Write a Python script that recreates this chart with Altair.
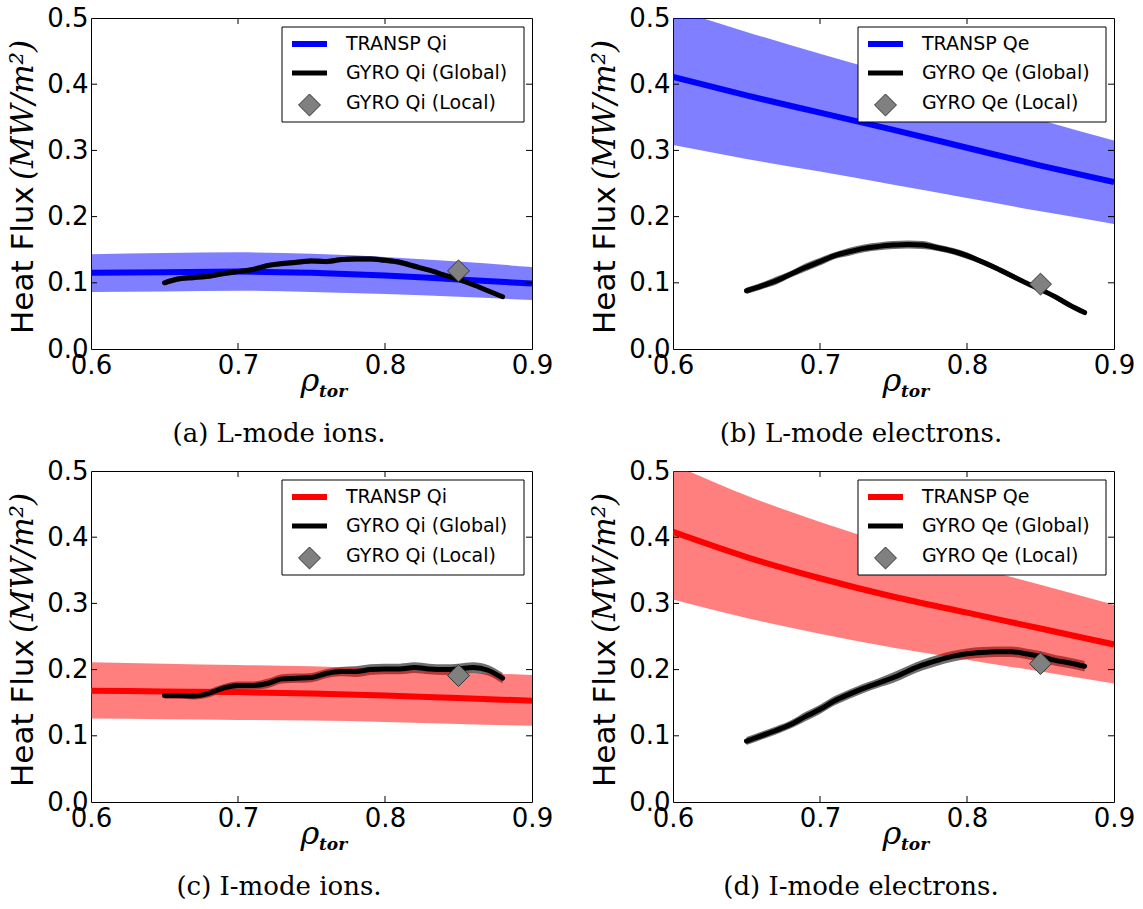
import altair as alt
import pandas as pd

# ---------------------------------------------------------------- data
# radial grid of the TRANSP power-balance profiles
rho_transp = [0.60, 0.65, 0.70, 0.75, 0.80, 0.85, 0.90]
# radial grid of the global GYRO runs
rho_gyro = [0.65, 0.66, 0.67, 0.68, 0.69, 0.70, 0.71, 0.72, 0.73, 0.74, 0.75, 0.76,
            0.77, 0.78, 0.79, 0.80, 0.81, 0.82, 0.83, 0.84, 0.85, 0.86, 0.87, 0.88]
# radius of the local (flux-tube) GYRO run
rho_local = 0.85

# (a) L-mode ions
lmode_qi_transp = [0.115, 0.116, 0.117, 0.115, 0.111, 0.105, 0.099]
lmode_qi_hi = [0.143, 0.145, 0.146, 0.144, 0.139, 0.132, 0.124]
lmode_qi_lo = [0.086, 0.087, 0.088, 0.086, 0.083, 0.079, 0.074]
lmode_qi_gyro = [0.100, 0.106, 0.108, 0.110, 0.114, 0.117, 0.120, 0.126, 0.129, 0.131, 0.133, 0.132,
                 0.135, 0.136, 0.136, 0.134, 0.131, 0.125, 0.119, 0.112, 0.105, 0.097, 0.088, 0.079]
lmode_qi_err = [0.004, 0.004, 0.004, 0.004, 0.004, 0.004, 0.004, 0.004, 0.004, 0.004, 0.004, 0.004,
                0.004, 0.004, 0.004, 0.004, 0.004, 0.004, 0.003, 0.003, 0.003, 0.003, 0.003, 0.003]
lmode_qi_local = 0.118

# (b) L-mode electrons
lmode_qe_transp = [0.411, 0.383, 0.357, 0.331, 0.304, 0.277, 0.252]
lmode_qe_hi = [0.514, 0.479, 0.446, 0.414, 0.380, 0.346, 0.315]
lmode_qe_lo = [0.308, 0.287, 0.268, 0.248, 0.228, 0.208, 0.189]
lmode_qe_gyro = [0.088, 0.095, 0.103, 0.113, 0.123, 0.132, 0.141, 0.147, 0.152, 0.155, 0.157, 0.158,
                 0.157, 0.153, 0.148, 0.141, 0.132, 0.122, 0.111, 0.100, 0.090, 0.079, 0.066, 0.055]
lmode_qe_err = [0.005, 0.005, 0.006, 0.005, 0.006, 0.006, 0.005, 0.006, 0.006, 0.006, 0.006, 0.006,
                0.006, 0.005, 0.005, 0.005, 0.004, 0.004, 0.004, 0.003, 0.003, 0.003, 0.003, 0.003]
lmode_qe_local = 0.098

# (c) I-mode ions
imode_qi_transp = [0.168, 0.167, 0.166, 0.164, 0.161, 0.157, 0.153]
imode_qi_hi = [0.211, 0.209, 0.207, 0.205, 0.201, 0.196, 0.192]
imode_qi_lo = [0.126, 0.125, 0.124, 0.123, 0.121, 0.118, 0.115]
imode_qi_gyro = [0.161, 0.161, 0.160, 0.164, 0.172, 0.176, 0.176, 0.179, 0.186, 0.187, 0.188, 0.194,
                 0.197, 0.197, 0.200, 0.201, 0.201, 0.203, 0.201, 0.200, 0.201, 0.203, 0.199, 0.187]
imode_qi_err = [0.005, 0.005, 0.005, 0.006, 0.006, 0.006, 0.006, 0.007, 0.007, 0.007, 0.007, 0.007,
                0.007, 0.008, 0.008, 0.008, 0.008, 0.008, 0.008, 0.008, 0.008, 0.008, 0.008, 0.008]
imode_qi_local = 0.191

# (d) I-mode electrons
imode_qe_transp = [0.408, 0.370, 0.338, 0.310, 0.286, 0.262, 0.238]
imode_qe_hi = [0.510, 0.463, 0.423, 0.388, 0.358, 0.328, 0.298]
imode_qe_lo = [0.306, 0.278, 0.254, 0.233, 0.215, 0.197, 0.179]
imode_qe_gyro = [0.092, 0.100, 0.108, 0.117, 0.129, 0.140, 0.153, 0.163, 0.172, 0.180, 0.188, 0.198,
                 0.207, 0.214, 0.220, 0.224, 0.226, 0.227, 0.227, 0.224, 0.220, 0.214, 0.210, 0.205]
imode_qe_err = [0.006, 0.006, 0.006, 0.006, 0.007, 0.007, 0.007, 0.007, 0.007, 0.007, 0.008, 0.008,
                0.008, 0.008, 0.008, 0.008, 0.008, 0.008, 0.008, 0.008, 0.008, 0.008, 0.008, 0.008]
imode_qe_local = 0.209

x_ticks = [0.6, 0.7, 0.8, 0.9]
y_ticks = [0.0, 0.1, 0.2, 0.3, 0.4, 0.5]

panels = [
    dict(transp=lmode_qi_transp, hi=lmode_qi_hi, lo=lmode_qi_lo, gyro=lmode_qi_gyro,
         err=lmode_qi_err, local=lmode_qi_local, color="#0000ff",
         legend=["TRANSP Qi", "GYRO Qi (Global)", "GYRO Qi (Local)"],
         caption="(a) L-mode ions."),
    dict(transp=lmode_qe_transp, hi=lmode_qe_hi, lo=lmode_qe_lo, gyro=lmode_qe_gyro,
         err=lmode_qe_err, local=lmode_qe_local, color="#0000ff",
         legend=["TRANSP Qe", "GYRO Qe (Global)", "GYRO Qe (Local)"],
         caption="(b) L-mode electrons."),
    dict(transp=imode_qi_transp, hi=imode_qi_hi, lo=imode_qi_lo, gyro=imode_qi_gyro,
         err=imode_qi_err, local=imode_qi_local, color="#ff0000",
         legend=["TRANSP Qi", "GYRO Qi (Global)", "GYRO Qi (Local)"],
         caption="(c) I-mode ions."),
    dict(transp=imode_qe_transp, hi=imode_qe_hi, lo=imode_qe_lo, gyro=imode_qe_gyro,
         err=imode_qe_err, local=imode_qe_local, color="#ff0000",
         legend=["TRANSP Qe", "GYRO Qe (Global)", "GYRO Qe (Local)"],
         caption="(d) I-mode electrons."),
]

# ---------------------------------------------------------------- layout
W, H = 441, 331
SANS = "DejaVu Sans"
SERIF = "DejaVu Serif"

x_scale = alt.Scale(domain=[0.6, 0.9], nice=False, zero=False)
y_scale = alt.Scale(domain=[0.0, 0.5], nice=False, zero=False)
x_axis = alt.Axis(values=x_ticks, format=".1f", title=None, labelPadding=3)
y_axis = alt.Axis(values=y_ticks, format=".1f", title=None, labelPadding=3)


def X(field):
    return alt.X(f"{field}:Q", scale=x_scale, axis=x_axis)


def Y(field):
    return alt.Y(f"{field}:Q", scale=y_scale, axis=y_axis)


def one(text=""):
    return alt.Chart(pd.DataFrame({"t": [text]}))


def text_at(text, x, y, **style):
    return one(text).mark_text(**style).encode(
        text="t:N", x=alt.value(x), y=alt.value(y))


def panel(p, legend_left):
    transp = pd.DataFrame({"rho": rho_transp, "q": p["transp"], "hi": p["hi"], "lo": p["lo"]})
    gyro = pd.DataFrame({"rho": rho_gyro, "q": p["gyro"], "err": p["err"]})
    local = pd.DataFrame({"rho": [rho_local], "q": [p["local"]]})
    color = p["color"]

    halo = alt.Chart(gyro).transform_calculate(
        g_lo="datum.q - datum.err", g_hi="datum.q + datum.err"
    ).mark_area(color="#222222", opacity=0.65, interpolate="monotone").encode(
        x=X("rho"), y=Y("g_lo"), y2="g_hi:Q")

    band = alt.Chart(transp).mark_area(
        color=color, opacity=0.5, interpolate="monotone", clip=True
    ).encode(x=X("rho"), y=Y("hi"), y2="lo:Q")

    transp_line = alt.Chart(transp).mark_line(
        color=color, strokeWidth=6, interpolate="monotone", clip=True
    ).encode(x=X("rho"), y=Y("q"))

    gyro_line = alt.Chart(gyro).mark_line(
        color="black", strokeWidth=5, interpolate="monotone", strokeCap="round"
    ).encode(x=X("rho"), y=Y("q"))

    local_pt = alt.Chart(local).mark_point(
        shape="diamond", filled=True, size=480, fill="#808080", stroke="#333333",
        strokeWidth=1, opacity=1
    ).encode(x=X("rho"), y=Y("q"))

    # inward tick marks on all four sides of the frame
    xt = pd.DataFrame({"rho": x_ticks[1:-1]})
    yt = pd.DataFrame({"q": y_ticks[1:-1]})
    tick_style = dict(color="black", strokeWidth=1)
    ticks = [
        alt.Chart(xt).mark_rule(**tick_style).encode(x=X("rho"), y=alt.value(H - 6), y2=alt.value(H)),
        alt.Chart(xt).mark_rule(**tick_style).encode(x=X("rho"), y=alt.value(0), y2=alt.value(6)),
        alt.Chart(yt).mark_rule(**tick_style).encode(y=Y("q"), x=alt.value(0), x2=alt.value(6)),
        alt.Chart(yt).mark_rule(**tick_style).encode(y=Y("q"), x=alt.value(W - 6), x2=alt.value(W)),
    ]

    # legend box
    right = 433
    rows = [26, 55, 85]
    sym_x0, sym_x1 = legend_left + 10, legend_left + 45
    txt_x = legend_left + 64
    legend = [
        one().mark_rect(fill="white", stroke="black", strokeWidth=1).encode(
            x=alt.value(legend_left), x2=alt.value(right), y=alt.value(9), y2=alt.value(104)),
        one().mark_rule(color=color, strokeWidth=6).encode(
            x=alt.value(sym_x0), x2=alt.value(sym_x1), y=alt.value(rows[0]), y2=alt.value(rows[0])),
        one().mark_rule(color="black", strokeWidth=5).encode(
            x=alt.value(sym_x0), x2=alt.value(sym_x1), y=alt.value(rows[1]), y2=alt.value(rows[1])),
        one().mark_point(shape="diamond", filled=True, size=480, fill="#808080",
                         stroke="#333333", strokeWidth=1, opacity=1).encode(
            x=alt.value((sym_x0 + sym_x1) / 2), y=alt.value(rows[2] + 2)),
    ]
    for label, ry in zip(p["legend"], rows):
        legend.append(text_at(label, txt_x, ry, font=SANS, fontSize=19, align="left",
                              baseline="middle", color="black"))

    # axis titles and caption
    labels = [
        text_at("Heat Flux", -67, 316, font=SANS, fontSize=31, angle=270, align="left",
                baseline="middle", color="black"),
        text_at("(MW/m²)", -67, 162, font=SERIF, fontSize=31, fontStyle="italic", angle=270,
                align="left", baseline="middle", color="black"),
        text_at("ρ", 219, 373, font=SERIF, fontSize=32, fontStyle="italic", align="center",
                baseline="alphabetic", color="black"),
        text_at("tor", 228, 379, font=SERIF, fontSize=17, fontStyle="italic", fontWeight="bold",
                align="left", baseline="alphabetic", color="black"),
        text_at(p["caption"], 188, 416, font=SERIF, fontSize=26, align="center",
                baseline="middle", color="black"),
    ]

    return alt.layer(halo, band, transp_line, gyro_line, local_pt, *ticks, *legend, *labels
                     ).properties(width=W, height=H)


grid = [panel(panels[0], 191), panel(panels[1], 185),
        panel(panels[2], 191), panel(panels[3], 185)]

chart = alt.concat(*grid, columns=2, spacing={"row": 122, "column": 141},
                   bounds="flush").properties(
    padding={"left": 7, "top": 4, "right": 0, "bottom": 0},
    background="white",
).configure_view(
    stroke="black", strokeWidth=1
).configure_axis(
    labelFont=SANS, labelFontSize=26, labelColor="black", ticks=False, domain=False,
    grid=False, labelFlush=False, labelOverlap=False
)

chart.save("out.html", embed_options={"renderer": "svg", "actions": False})
